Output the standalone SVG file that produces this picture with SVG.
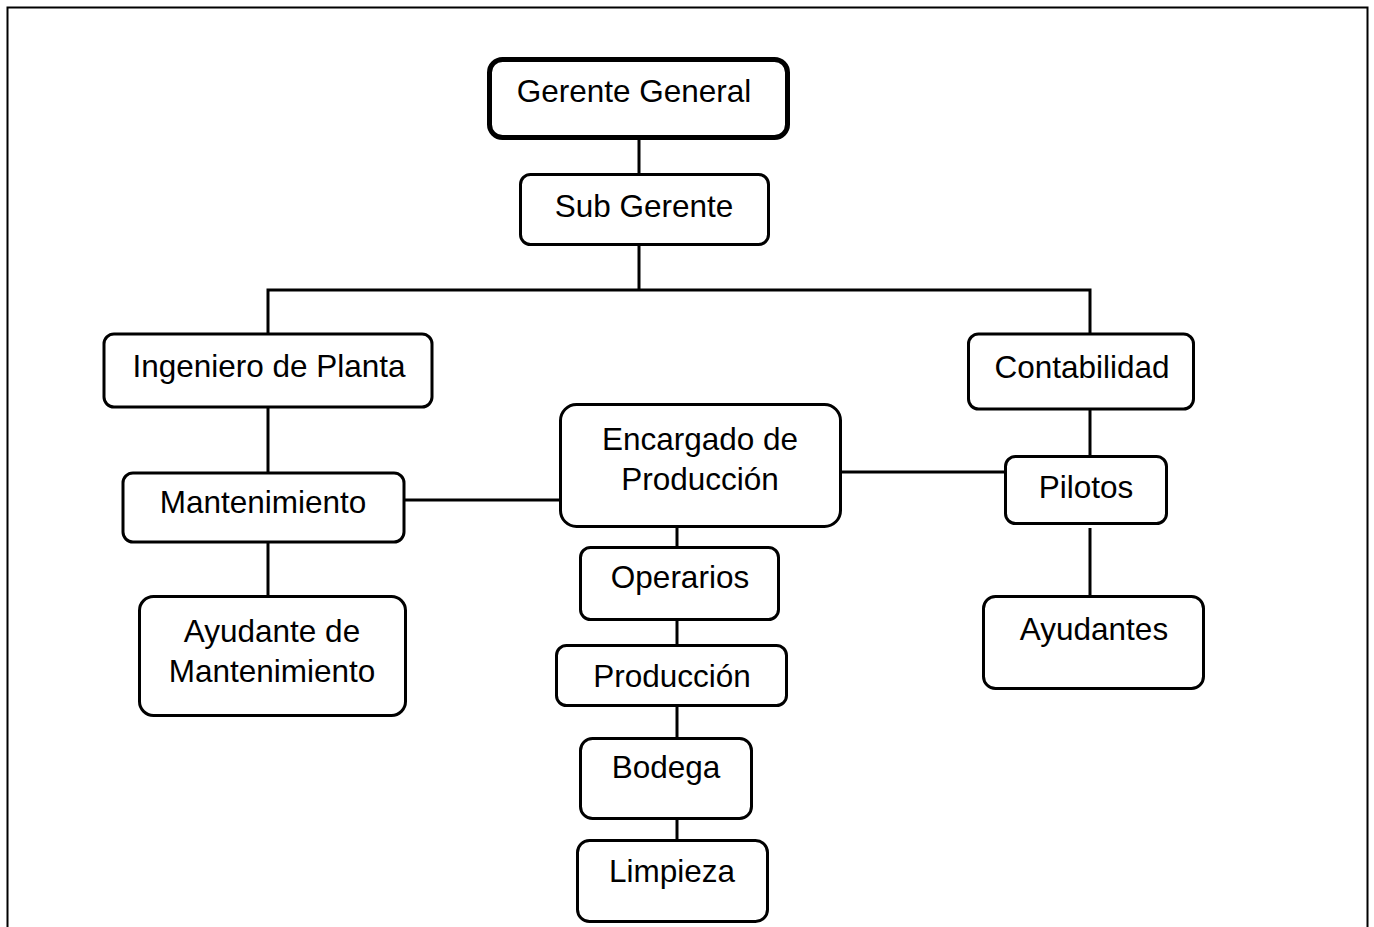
<svg xmlns="http://www.w3.org/2000/svg" width="1374" height="927" viewBox="0 0 1374 927">
<style>
.box{fill:#fff;stroke:#000;stroke-width:3}
.top{stroke-width:5}
.lbl{font-family:"Liberation Sans",Arial,sans-serif;font-size:31.5px;fill:#000;text-anchor:middle}
.con{stroke:#000;stroke-width:3;fill:none}
</style>
<rect x="7.5" y="7.5" width="1360" height="940" fill="#fff" stroke="#000" stroke-width="2"/>
<g id="connectors">
<line class="con" x1="639" y1="138" x2="639" y2="175"/>
<polyline class="con" points="639,245 639,290"/>
<polyline class="con" points="268,333 268,290 1090,290 1090,333"/>
<line class="con" x1="268" y1="408" x2="268" y2="472"/>
<line class="con" x1="268" y1="543" x2="268" y2="595"/>
<line class="con" x1="405" y1="500" x2="559" y2="500"/>
<line class="con" x1="842" y1="472" x2="1004" y2="472"/>
<line class="con" x1="1090" y1="410" x2="1090" y2="455"/>
<line class="con" x1="1090" y1="528" x2="1090" y2="595"/>
<line class="con" x1="677" y1="523" x2="677" y2="548"/>
<line class="con" x1="677" y1="620" x2="677" y2="645"/>
<line class="con" x1="677" y1="707" x2="677" y2="738"/>
<line class="con" x1="677" y1="820" x2="677" y2="840"/>
</g>
<g id="gerente-general">
<rect class="box top" x="489.5" y="59.5" width="298" height="78" rx="13"/>
<text class="lbl" x="634" y="102">Gerente General</text>
</g>
<g id="sub-gerente">
<rect class="box" x="520.5" y="174.5" width="248" height="70" rx="10"/>
<text class="lbl" x="644" y="217">Sub Gerente</text>
</g>
<g id="ingeniero">
<rect class="box" x="104" y="334" width="328" height="73" rx="10"/>
<text class="lbl" x="269" y="377">Ingeniero de Planta</text>
</g>
<g id="contabilidad">
<rect class="box" x="968.5" y="334" width="225" height="75" rx="10"/>
<text class="lbl" x="1082" y="378">Contabilidad</text>
</g>
<g id="encargado">
<rect class="box" x="560.5" y="404.5" width="280" height="122" rx="16"/>
<text class="lbl" x="700" y="450">Encargado de</text>
<text class="lbl" x="700" y="490">Producción</text>
</g>
<g id="mantenimiento">
<rect class="box" x="123" y="473" width="281" height="69" rx="10"/>
<text class="lbl" x="263" y="513">Mantenimiento</text>
</g>
<g id="pilotos">
<rect class="box" x="1005.5" y="456.5" width="161" height="67" rx="10"/>
<text class="lbl" x="1086" y="498">Pilotos</text>
</g>
<g id="operarios">
<rect class="box" x="580.5" y="547.5" width="198" height="72" rx="10"/>
<text class="lbl" x="680" y="588">Operarios</text>
</g>
<g id="ayudante-mant">
<rect class="box" x="139.5" y="596.5" width="266" height="119" rx="14"/>
<text class="lbl" x="272" y="642">Ayudante de</text>
<text class="lbl" x="272" y="682">Mantenimiento</text>
</g>
<g id="ayudantes">
<rect class="box" x="983.5" y="596.5" width="220" height="92" rx="12"/>
<text class="lbl" x="1094" y="640">Ayudantes</text>
</g>
<g id="produccion">
<rect class="box" x="556.5" y="645.5" width="230" height="60" rx="10"/>
<text class="lbl" x="672" y="687">Producción</text>
</g>
<g id="bodega">
<rect class="box" x="580.5" y="738.5" width="171" height="80" rx="12"/>
<text class="lbl" x="666" y="778">Bodega</text>
</g>
<g id="limpieza">
<rect class="box" x="577.5" y="840.5" width="190" height="81" rx="12"/>
<text class="lbl" x="672" y="882">Limpieza</text>
</g>
</svg>
